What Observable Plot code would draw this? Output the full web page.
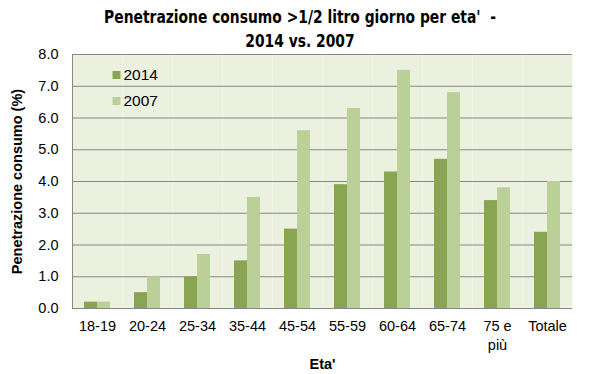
<!DOCTYPE html>
<html>
<head>
<meta charset="utf-8">
<script src="https://cdn.jsdelivr.net/npm/d3@7"></script>
<script src="https://cdn.jsdelivr.net/npm/@observablehq/plot@0.6"></script>
<style>
  html, body { margin: 0; padding: 0; background: #fff; }
  #wrap { position: relative; width: 600px; height: 374px; }
  #title {
    position: absolute; left: 0; top: 5px; width: 600px; text-align: center;
    font-family: "Liberation Sans Narrow", "Arial Narrow", "DejaVu Sans Condensed", sans-serif;
    font-weight: bold; font-size: 17.5px; line-height: 24px; color: #000;
    transform: scaleX(0.88); transform-origin: 300px 0;
  }
  svg [aria-label="y-axis label"], svg [aria-label="fx-axis label"] { font-weight: bold; }
</style>
</head>
<body>
<div id="wrap"><div id="title">Penetrazione consumo &gt;1/2 litro giorno per eta'&nbsp; -<br>2014 vs. 2007</div></div>
<script>
const categories = ["18-19", "20-24", "25-34", "35-44", "45-54", "55-59", "60-64", "65-74", "75 e\npiù", "Totale"];
const series = ["2014", "2007"];
const values2014 = [0.2, 0.5, 1.0, 1.5, 2.5, 3.9, 4.3, 4.7, 3.4, 2.4];
const values2007 = [0.2, 1.0, 1.7, 3.5, 5.6, 6.3, 7.5, 6.8, 3.8, 4.0];
const yTicks = [0, 1, 2, 3, 4, 5, 6, 7, 8];

const data = [];
categories.forEach((c, i) => {
  data.push({cat: c, series: "2014", value: values2014[i]});
  data.push({cat: c, series: "2007", value: values2007[i]});
});

const gridColor = "#878787";

const chart = Plot.plot({
  width: 600,
  height: 374,
  marginLeft: 69,
  marginRight: 25,
  marginTop: 54,
  marginBottom: 66,
  style: {fontFamily: "'Liberation Sans', Arial, sans-serif", fontSize: "14.5px", color: "#000", background: "transparent"},
  fx: {domain: categories, padding: 0},
  x: {domain: series, paddingInner: 0, paddingOuter: 0.8, axis: null},
  y: {domain: [0, 8]},
  color: {domain: series, range: ["#8AA552", "#BBCF99"]},
  marks: [
    Plot.frame({fill: "#EBF1DE"}),
    Plot.gridY(yTicks, {stroke: gridColor, strokeOpacity: 1, strokeWidth: 1}),
    Plot.frame({anchor: "left", stroke: gridColor, strokeOpacity: 1, facet: "super"}),
    Plot.barY(data, {fx: "cat", x: "series", y: "value", fill: "series"}),
    Plot.axisY(yTicks, {tickFormat: d => d.toFixed(1), tickSize: 0, tickPadding: 14,
      label: "Penetrazione consumo (%)", labelAnchor: "center", labelOffset: 61, labelArrow: "none", fontSize: 14.5}),
    Plot.axisFx({anchor: "bottom", tickSize: 0, tickPadding: 9, lineHeight: 1.3, label: "Eta'", labelAnchor: "center", labelOffset: 60, fontSize: 14.5}),
    ...series.map((s, i) => Plot.dot([s], {fx: () => categories[0], frameAnchor: "top-left", dx: 44, dy: 20.5 + i * 26,
      symbol: "square", r: 4.5, fill: d => d, stroke: null})),
    ...series.map((s, i) => Plot.text([s], {fx: () => categories[0], frameAnchor: "top-left", dx: 51, dy: 21 + i * 26,
      text: d => d, textAnchor: "start", lineAnchor: "middle", fontSize: 15.5, fill: "#000"}))
  ]
});
document.getElementById("wrap").prepend(chart);
</script>
</body>
</html>
